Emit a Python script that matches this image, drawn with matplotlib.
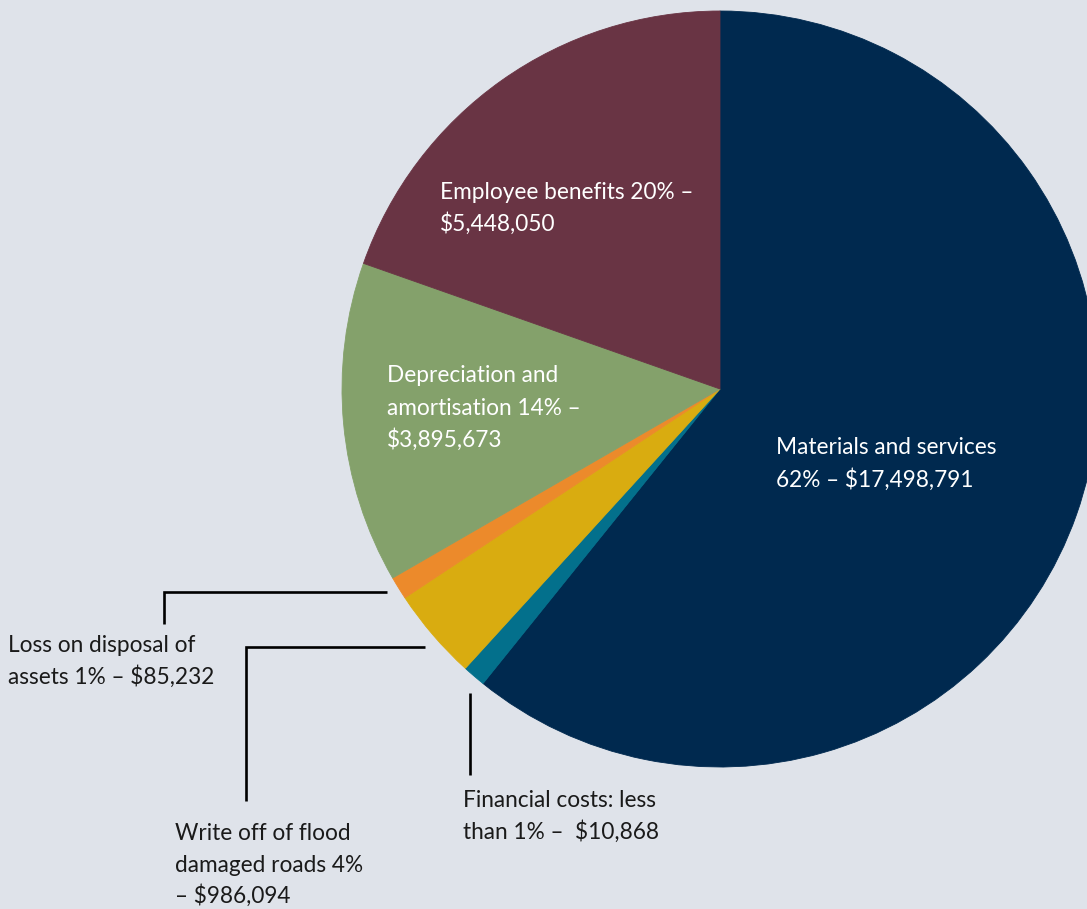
import matplotlib
matplotlib.use("Agg")
import matplotlib.pyplot as plt
from matplotlib.lines import Line2D

# ---- data ----
categories = ["Materials and services", "Financial costs", "Write off of flood damaged roads",
              "Loss on disposal of assets", "Depreciation and amortisation", "Employee benefits"]
percent = [62, 1, 4, 1, 14, 20]
amounts = ["$17,498,791", "$10,868", "$986,094", "$85,232", "$3,895,673", "$5,448,050"]
colors = ["#00294f", "#03708c", "#d9ac10", "#ec8a2b", "#84a16b", "#693444"]

W, H = 1087, 909
BG = "#dfe3ea"
fig = plt.figure(figsize=(W / 100, H / 100), dpi=100, facecolor=BG)

# pie axes: centre (720, 389) px, radius 378 px
cx, cy, r = 720, 389, 378
ax = fig.add_axes([(cx - r) / W, (H - cy - r) / H, 2 * r / W, 2 * r / H])
ax.set_facecolor(BG)
ax.pie(percent, colors=colors, startangle=90, counterclock=False, radius=1,
       wedgeprops=dict(linewidth=0.6, antialiased=True))
for w, c in zip(ax.patches, colors):
    w.set_edgecolor(c)
ax.set_xlim(-1, 1)
ax.set_ylim(-1, 1)
ax.set_aspect("auto")
ax.axis("off")

FONT = "Lato"
FS = 16.3


def px_text(x, y, s, color):
    fig.text(x / W, 1 - y / H, s, color=color, fontsize=FS, family=FONT,
             ha="left", va="baseline")


def lines(x, y0, step, rows, color):
    for i, s in enumerate(rows):
        px_text(x, y0 + i * step, s, color)


white = "white"
dark = "#1a1a1a"
lines(440, 199, 31.5, ["Employee benefits 20% \u2013", amounts[5]], white)
lines(387, 382, 32.5, ["Depreciation and", "amortisation 14% \u2013", amounts[4]], white)
lines(776, 454, 32.5, ["Materials and services", "62% \u2013 " + amounts[0]], white)
lines(8, 652, 31.5, ["Loss on disposal of", "assets 1% \u2013 " + amounts[3]], dark)
lines(175, 840, 31.5, ["Write off of flood", "damaged roads 4%", "\u2013 " + amounts[2]], dark)
lines(463, 807, 32, ["Financial costs: less", "than 1% \u2013  " + amounts[1]], dark)


def leader(xs, ys):
    fig.add_artist(Line2D([x / W for x in xs], [1 - y / H for y in ys],
                          color="black", linewidth=1.9, solid_joinstyle="miter",
                          solid_capstyle="butt"))


leader([387, 164, 164], [592, 592, 624])
leader([425, 246, 246], [647, 647, 801])
leader([470, 470], [693, 775])

fig.savefig("out.png", dpi=100, facecolor=BG)
